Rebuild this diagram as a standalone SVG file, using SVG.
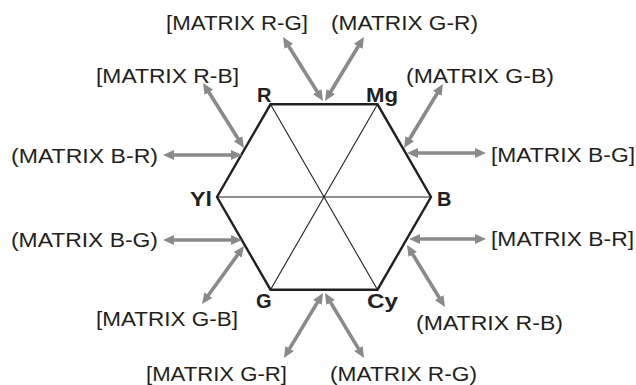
<svg xmlns="http://www.w3.org/2000/svg" width="636" height="385" viewBox="0 0 636 385">
<style>
.lbl{font-family:"Liberation Sans","Noto Sans",Arial,sans-serif;font-size:20px;fill:#231f20}
.v{font-family:"Liberation Sans","Noto Sans",Arial,sans-serif;font-size:20px;font-weight:bold;fill:#231f20}
.hex{fill:none;stroke:#231f20;stroke-width:2.4;stroke-linejoin:miter}
.diag{stroke:#231f20;stroke-width:1.1}
.arr{stroke:#8a8a8a;stroke-width:3.6;fill:none;marker-start:url(#ah);marker-end:url(#ah)}
</style>
<defs>
<marker id="ah" markerUnits="userSpaceOnUse" markerWidth="13" markerHeight="11" refX="3" refY="5" orient="auto-start-reverse">
<path d="M0,0 L11,5 L0,10 z" fill="#8a8a8a"/>
</marker>
</defs>
<rect width="636" height="385" fill="#ffffff"/>
<g id="hexagon">
<line class="diag" x1="270.5" y1="104.3" x2="377.5" y2="289.7"/>
<line class="diag" x1="377.5" y1="104.3" x2="270.5" y2="289.7"/>
<line class="diag" x1="217" y1="197" x2="431" y2="197"/>
<polygon class="hex" points="270.5,104.3 377.5,104.3 431,197 377.5,289.7 270.5,289.7 217,197"/>
</g>
<g id="vertex-labels">
<text id="v-R" class="v" x="257" y="102">R</text>
<text id="v-Mg" class="v" x="366" y="102" textLength="32" lengthAdjust="spacingAndGlyphs">Mg</text>
<text id="v-Yl" class="v" x="190" y="206" textLength="22" lengthAdjust="spacingAndGlyphs">Yl</text>
<text id="v-B" class="v" x="437" y="206">B</text>
<text id="v-G" class="v" x="256" y="308">G</text>
<text id="v-Cy" class="v" x="367" y="308" textLength="31" lengthAdjust="spacingAndGlyphs">Cy</text>
</g>
<g id="connectors">
<line class="arr" x1="318.8" y1="94.2" x2="287.2" y2="43.8"/>
<line class="arr" x1="329.2" y1="94.2" x2="359.8" y2="43.8"/>
<line class="arr" x1="239.7" y1="141.2" x2="207.3" y2="89.8"/>
<line class="arr" x1="234" y1="155" x2="171" y2="155"/>
<line class="arr" x1="234" y1="240" x2="171" y2="240"/>
<line class="arr" x1="239.3" y1="252.5" x2="206.7" y2="297.5"/>
<line class="arr" x1="408.2" y1="141.2" x2="438.8" y2="90.8"/>
<line class="arr" x1="415" y1="153" x2="478" y2="153"/>
<line class="arr" x1="417" y1="239" x2="478" y2="239"/>
<line class="arr" x1="411.2" y1="251.8" x2="440.8" y2="300.2"/>
<line class="arr" x1="318.9" y1="299.9" x2="288.1" y2="351.1"/>
<line class="arr" x1="329.1" y1="299.9" x2="359.9" y2="351.1"/>
</g>
<g id="labels">
<text id="l-rg-top" class="lbl" x="166" y="30" textLength="142" lengthAdjust="spacingAndGlyphs">[MATRIX R-G]</text>
<text id="l-gr-top" class="lbl" x="331" y="30" textLength="147" lengthAdjust="spacingAndGlyphs">(MATRIX G-R)</text>
<text id="l-rb-ul" class="lbl" x="96" y="83" textLength="143" lengthAdjust="spacingAndGlyphs">[MATRIX R-B]</text>
<text id="l-gb-ur" class="lbl" x="406" y="83" textLength="148" lengthAdjust="spacingAndGlyphs">(MATRIX G-B)</text>
<text id="l-br-l" class="lbl" x="11" y="163" textLength="147" lengthAdjust="spacingAndGlyphs">(MATRIX B-R)</text>
<text id="l-bg-r" class="lbl" x="491" y="162" textLength="144" lengthAdjust="spacingAndGlyphs">[MATRIX B-G]</text>
<text id="l-bg-l" class="lbl" x="11" y="247" textLength="147" lengthAdjust="spacingAndGlyphs">(MATRIX B-G)</text>
<text id="l-br-r" class="lbl" x="491" y="246" textLength="143" lengthAdjust="spacingAndGlyphs">[MATRIX B-R]</text>
<text id="l-gb-ll" class="lbl" x="96" y="326" textLength="142" lengthAdjust="spacingAndGlyphs">[MATRIX G-B]</text>
<text id="l-rb-lr" class="lbl" x="416" y="330" textLength="147" lengthAdjust="spacingAndGlyphs">(MATRIX R-B)</text>
<text id="l-gr-bot" class="lbl" x="146" y="381" textLength="141" lengthAdjust="spacingAndGlyphs">[MATRIX G-R]</text>
<text id="l-rg-bot" class="lbl" x="330" y="381" textLength="147" lengthAdjust="spacingAndGlyphs">(MATRIX R-G)</text>
</g>
</svg>
